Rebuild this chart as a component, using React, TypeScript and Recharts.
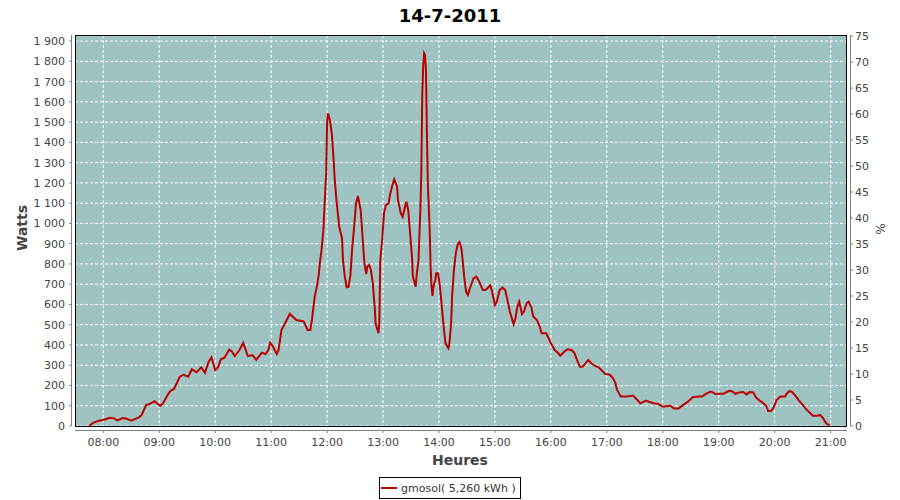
import React from 'react';
import { LineChart, Line, XAxis, YAxis, CartesianGrid } from 'recharts';

const TITLE = '14-7-2011';
const SERIES_NAME = 'gmosol( 5,260 kWh )';
const Y_LEFT_LABEL = 'Watts';
const Y_RIGHT_LABEL = '%';
const X_LABEL = 'Heures';

const TIMES = [
  '07:45','07:49','07:55','08:00','08:07','08:11','08:15','08:21','08:25','08:30',
  '08:38','08:41','08:46','08:50','08:55','09:01','09:04','09:10','09:12','09:16',
  '09:22','09:26','09:31','09:35','09:40','09:45','09:49','09:53','09:56','10:00',
  '10:03','10:06','10:10','10:15','10:18','10:21','10:26','10:30','10:35','10:40',
  '10:44','10:50','10:54','10:57','10:59','11:02','11:06','11:08','11:11','11:14',
  '11:20','11:27','11:33','11:35','11:39','11:42','11:44','11:45','11:47','11:49',
  '11:51','11:52','11:54','11:56','11:57','11:59','12:00','12:01','12:03','12:05',
  '12:07','12:08','12:10','12:13','12:16','12:17','12:19','12:21','12:23','12:25',
  '12:27','12:29','12:31','12:33','12:36','12:38','12:40','12:42','12:43','12:45',
  '12:47','12:49','12:51','12:52','12:55','12:56','12:57','12:59','13:01','13:03',
  '13:06','13:07','13:10','13:12','13:15','13:16','13:19','13:21','13:24','13:25',
  '13:27','13:29','13:31','13:32','13:35','13:36','13:38','13:40','13:41','13:42',
  '13:43','13:44','13:45','13:46','13:47','13:48','13:50','13:51','13:52','13:53',
  '13:54','13:56','13:57','13:59','14:01','14:03','14:05','14:07','14:10','14:11',
  '14:13','14:14','14:16','14:18','14:20','14:22','14:24','14:25','14:27','14:29',
  '14:31','14:32','14:35','14:37','14:40','14:43','14:47','14:50','14:55','14:57',
  '15:00','15:02','15:05','15:08','15:11','15:13','15:16','15:20','15:22','15:24',
  '15:26','15:29','15:31','15:34','15:36','15:39','15:41','15:45','15:48','15:50',
  '15:55','15:57','16:00','16:04','16:08','16:10','16:15','16:18','16:22','16:25',
  '16:28','16:31','16:34','16:37','16:40','16:44','16:47','16:51','16:55','16:58',
  '17:03','17:06','17:09','17:11','17:15','17:21','17:28','17:31','17:36','17:42',
  '17:45','17:50','17:55','18:00','18:08','18:12','18:17','18:22','18:27','18:32',
  '18:38','18:42','18:47','18:51','18:54','18:56','19:01','19:05','19:09','19:12',
  '19:15','19:18','19:22','19:26','19:30','19:33','19:37','19:40','19:44','19:48',
  '19:51','19:53','19:56','19:59','20:02','20:06','20:11','20:13','20:16','20:19',
  '20:23','20:26','20:30','20:33','20:37','20:41','20:45','20:49','20:52','20:54',
  '20:56','20:59',
];

const WATTS = [
  0, 16, 26, 30, 41, 39, 28, 39, 36, 26,
  43, 54, 104, 109, 122, 99, 112, 161, 173, 184,
  243, 253, 243, 280, 265, 290, 263, 317, 339, 276,
  290, 329, 337, 378, 367, 345, 375, 411, 345, 350,
  326, 362, 355, 375, 411, 391, 355, 375, 474, 499,
  553, 523, 518, 515, 474, 474, 532, 573, 647, 688,
  745, 795, 869, 967, 1066, 1247, 1502, 1543, 1510, 1445,
  1313, 1230, 1115, 984, 926, 819, 737, 685, 688, 745,
  885, 984, 1099, 1135, 1066, 934, 803, 750, 786, 795,
  770, 704, 589, 507, 458, 507, 819, 918, 1050, 1091,
  1099, 1132, 1190, 1218, 1181, 1115, 1050, 1033, 1091, 1107,
  1066, 951, 836, 737, 688, 745, 819, 1066, 1247, 1625,
  1773, 1840, 1831, 1757, 1445, 1198, 967, 786, 688, 642,
  688, 721, 754, 754, 688, 589, 490, 408, 384, 400,
  507, 638, 770, 852, 897, 908, 877, 836, 737, 663,
  647, 663, 704, 729, 737, 713, 671, 671, 694, 663,
  597, 614, 671, 683, 671, 630, 564, 503, 532, 589,
  614, 553, 564, 606, 614, 586, 540, 523, 490, 458,
  458, 438, 408, 375, 359, 347, 370, 379, 375, 362,
  326, 293, 293, 309, 326, 306, 298, 290, 273, 257,
  253, 240, 214, 178, 145, 145, 150, 137, 112, 125,
  120, 112, 109, 95, 100, 87, 87, 104, 120, 142,
  145, 145, 161, 169, 166, 158, 159, 159, 169, 174,
  169, 159, 166, 168, 156, 168, 166, 140, 125, 112,
  99, 74, 74, 92, 128, 145, 145, 161, 173, 166,
  145, 125, 104, 87, 68, 51, 51, 54, 38, 21,
  10, 3,
];

const X_TICKS = [8, 9, 10, 11, 12, 13, 14, 15, 16, 17, 18, 19, 20, 21];
const Y_LEFT_TICKS = [0, 100, 200, 300, 400, 500, 600, 700, 800, 900, 1000, 1100, 1200, 1300, 1400, 1500, 1600, 1700, 1800, 1900];
const Y_RIGHT_TICKS = [0, 5, 10, 15, 20, 25, 30, 35, 40, 45, 50, 55, 60, 65, 70, 75];
const X_DOMAIN = [7.494, 21.292];
const Y_LEFT_DOMAIN = [0, 1930];
const Y_RIGHT_DOMAIN = [0, 75.2];

const toHours = (t: string) => {
  const [h, m] = t.split(':').map(Number);
  return h + m / 60;
};

const data = TIMES.map((t, i) => ({ h: toHours(t), w: WATTS[i] }));

// layout
const W = 900;
const H = 500;
const PL = 75;
const PT = 35;
const PR = 847;
const PB = 426;

const FONT = 'DejaVu Sans';
const TICK_COLOR = '#444444';
const AXIS_COLOR = '#808080';
const LINE_COLOR = '#bb0000';

const fmtWatts = (v: number) =>
  v >= 1000 ? `${Math.floor(v / 1000)} ${String(v % 1000).padStart(3, '0')}` : String(v);
const fmtHour = (v: number) => `${String(v).padStart(2, '0')}:00`;

const LeftTick = (p: any) => (
  <g>
    <line x1={PL - 6} x2={PL - 4} y1={p.y} y2={p.y} stroke={AXIS_COLOR} />
    <text x={PL - 10} y={p.y + 4} textAnchor="end" fontSize={11} fontFamily={FONT} fill={TICK_COLOR}>
      {fmtWatts(p.payload.value)}
    </text>
  </g>
);

const RightTick = (p: any) => (
  <g>
    <line x1={PR + 4} x2={PR + 6} y1={p.y} y2={p.y} stroke={AXIS_COLOR} />
    <text x={PR + 8} y={p.y + 4} textAnchor="start" fontSize={11} fontFamily={FONT} fill={TICK_COLOR}>
      {p.payload.value}
    </text>
  </g>
);

const BottomTick = (p: any) => (
  <g>
    <line x1={p.x} x2={p.x} y1={PB + 4} y2={PB + 7} stroke={AXIS_COLOR} />
    <text x={p.x} y={PB + 20} textAnchor="middle" fontSize={11} fontFamily={FONT} fill={TICK_COLOR}>
      {fmtHour(p.payload.value)}
    </text>
  </g>
);

export default function App() {
  return (
    <div style={{ position: 'absolute', left: 0, top: 0, width: W, height: H, background: '#ffffff' }}>
      <LineChart
        width={W}
        height={H}
        data={data}
        margin={{ top: PT, left: 15, right: 13, bottom: 44 }}
      >
        <CartesianGrid
          fill="#9fc3c2"
          fillOpacity={1}
          stroke="#ffffff"
          strokeDasharray="3 2"
        />
        <XAxis
          dataKey="h"
          type="number"
          domain={X_DOMAIN}
          ticks={X_TICKS}
          allowDataOverflow
          interval={0}
          height={30}
          axisLine={false}
          tickLine={false}
          tick={BottomTick}
        />
        <YAxis
          type="number"
          domain={Y_LEFT_DOMAIN}
          ticks={Y_LEFT_TICKS}
          allowDataOverflow
          interval={0}
          width={60}
          axisLine={false}
          tickLine={false}
          tick={LeftTick}
        />
        <YAxis
          yAxisId="pct"
          orientation="right"
          type="number"
          domain={Y_RIGHT_DOMAIN}
          ticks={Y_RIGHT_TICKS}
          allowDataOverflow
          interval={0}
          width={40}
          axisLine={false}
          tickLine={false}
          tick={RightTick}
        />
        <Line
          type="linear"
          dataKey="w"
          stroke={LINE_COLOR}
          strokeWidth={2}
          dot={false}
          activeDot={false}
          isAnimationActive={false}
        />
      </LineChart>
      <svg
        width={W}
        height={H}
        style={{ position: 'absolute', left: 0, top: 0, pointerEvents: 'none' }}
      >
        <rect x={PL + 0.5} y={PT + 0.5} width={PR - PL - 1} height={PB - PT} fill="none" stroke="#000000" />
        <line x1={PL - 3.5} x2={PL - 3.5} y1={PT} y2={PB} stroke={AXIS_COLOR} />
        <line x1={PR + 3.5} x2={PR + 3.5} y1={PT} y2={PB} stroke={AXIS_COLOR} />
        <line x1={PL} x2={PR} y1={PB + 4.5} y2={PB + 4.5} stroke={AXIS_COLOR} />
        <text x={450} y={22} textAnchor="middle" fontSize={18} fontWeight="bold" fontFamily={FONT} fill="#000000">
          {TITLE}
        </text>
        <text
          x={27}
          y={228}
          transform="rotate(-90, 27, 228)"
          textAnchor="middle"
          fontSize={14}
          fontWeight="bold"
          fontFamily={FONT}
          fill={TICK_COLOR}
        >
          {Y_LEFT_LABEL}
        </text>
        <text
          x={885}
          y={229}
          transform="rotate(-90, 885, 229)"
          textAnchor="middle"
          fontSize={12}
          fontFamily={FONT}
          fill={TICK_COLOR}
        >
          {Y_RIGHT_LABEL}
        </text>
        <text x={460} y={465} textAnchor="middle" fontSize={14} fontWeight="bold" fontFamily={FONT} fill={TICK_COLOR}>
          {X_LABEL}
        </text>
        <rect x={379.5} y={477.5} width={141} height={21} fill="#ffffff" stroke="#000000" />
        <line x1={381} x2={397} y1={488} y2={488} stroke={LINE_COLOR} strokeWidth={2} />
        <text x={401} y={492} fontSize={11} fontFamily={FONT} fill="#333333">
          {SERIES_NAME}
        </text>
      </svg>
    </div>
  );
}
